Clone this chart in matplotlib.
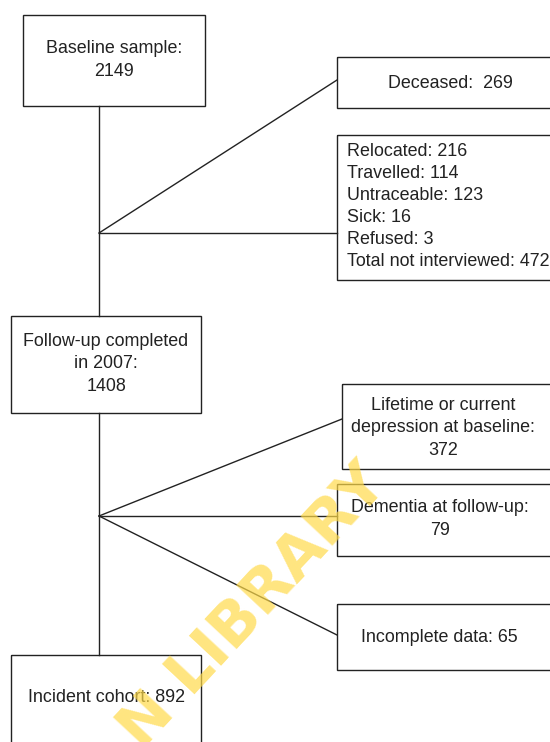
import matplotlib
matplotlib.use('Agg')
import matplotlib.pyplot as plt
from matplotlib.patches import Rectangle

plt.rcParams['font.family'] = ['Liberation Sans', 'DejaVu Sans']

# counts in the flow
baseline_n = 2149
followup_n = 1408
cohort_n = 892
deceased_n = 269
lost_labels = ['Relocated', 'Travelled', 'Untraceable', 'Sick', 'Refused']
lost_counts = [216, 114, 123, 16, 3]
lost_total = 472
excl_labels = ['Lifetime or current\ndepression at baseline:', 'Dementia at follow-up:', 'Incomplete data:']
excl_counts = [372, 79, 65]

ink = '#222222'
fs = 12.9
ls = 1.42

fig = plt.figure(figsize=(5.5, 7.42), dpi=100)
ax = fig.add_axes([0, 0, 1, 1])
ax.set_xlim(0, 550)
ax.set_ylim(742, 0)
ax.axis('off')

def box(x, y, w, h):
    ax.add_patch(Rectangle((x, y), w, h, fill=False, ec=ink, lw=1.0, zorder=2))

def line(x0, y0, x1, y1):
    ax.plot([x0, x1], [y0, y1], color=ink, lw=1.0, zorder=2)

# main column
box(23, 15, 182, 91)
ax.text(114, 60, 'Baseline sample:\n%d' % baseline_n, ha='center', va='center',
        fontsize=fs, color=ink, linespacing=ls)
line(99, 106, 99, 316)

box(11, 316, 190, 97)
ax.text(106, 364, 'Follow-up completed\nin 2007:\n%d' % followup_n, ha='center',
        va='center', fontsize=fs, color=ink, linespacing=ls)
line(99, 413, 99, 655)

box(11, 655, 190, 120)
ax.text(106, 698, 'Incident cohort: %d' % cohort_n, ha='center', va='center',
        fontsize=fs, color=ink)

# first branch
line(99, 233, 337, 80)
line(99, 233, 337, 233)
box(337, 57, 240, 51)
ax.text(450, 83, 'Deceased:  %d' % deceased_n, ha='center', va='center',
        fontsize=fs, color=ink)
box(337, 135, 240, 145)
lost_lines = ['%s: %d' % (l, c) for l, c in zip(lost_labels, lost_counts)]
lost_lines.append('Total not interviewed: %d' % lost_total)
for i, t in enumerate(lost_lines):
    ax.text(347, 151 + i * 22.2, t, ha='left', va='center', fontsize=fs, color=ink)

# second branch
line(99, 516, 342, 419)
line(99, 516, 337, 516)
line(99, 516, 337, 635)
box(342, 384, 230, 85)
ax.text(443, 428, '%s\n%d' % (excl_labels[0], excl_counts[0]), ha='center',
        va='center', fontsize=fs, color=ink, linespacing=ls)
box(337, 484, 240, 72)
ax.text(440, 519, '%s\n%d' % (excl_labels[1], excl_counts[1]), ha='center',
        va='center', fontsize=fs, color=ink, linespacing=ls)
box(337, 604, 240, 66)
ax.text(439, 637, '%s %d' % (excl_labels[2], excl_counts[2]), ha='center',
        va='center', fontsize=fs, color=ink)

# watermark (partly off the page, as in the source)
ax.text(377, 474, 'N LIBRARY', rotation=47, rotation_mode='anchor',
        ha='right', va='center', fontsize=44, fontweight='bold',
        family='DejaVu Sans', color='#FFDA4A', alpha=0.7, zorder=3)

fig.savefig('out.png', dpi=100)
